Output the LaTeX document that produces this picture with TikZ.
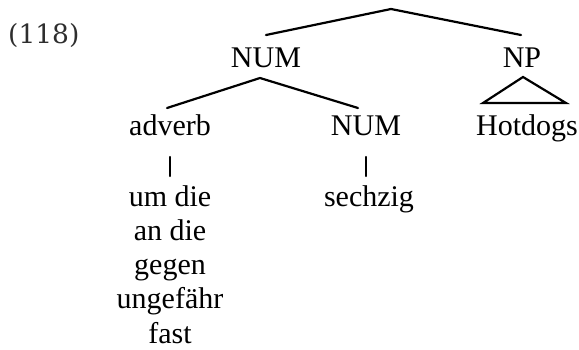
\documentclass[tikz,border=0pt]{standalone}
\usepackage{fontspec}
\setmainfont{Liberation Serif}
\newfontfamily\exfont{DejaVu Serif}
\begin{document}
\begin{tikzpicture}[x=1pt,y=-1pt,
  lab/.style={inner sep=0pt,anchor=base,font=\fontsize{30}{34.3}\selectfont},
  branch/.style={line width=2.2pt,line cap=round},
  exnum/.style={inner sep=0pt,anchor=base west,text=black!82,font=\exfont\fontsize{26.5}{30}\selectfont}]
\useasboundingbox (0,0) rectangle (579,349);
\node[exnum] (ex) at (8,43) {(118)};
% labels
\node[lab] (num1) at (266,67) {NUM};
\node[lab] (np) at (522,67) {NP};
\node[lab] (adv) at (170,135) {adverb};
\node[lab] (num2) at (366,135) {NUM};
\node[lab] (hot) at (527,135) {Hotdogs};
\node[lab] (advw) at (170,206) {\begin{tabular}[t]{@{}c@{}}um die\\an die\\gegen\\ungefähr\\fast\end{tabular}};
\node[lab] (sech) at (369,206) {sechzig};
% branch points
\coordinate (root) at (391,9);
\coordinate (num1t) at (266,35);
\coordinate (npt) at (521,35);
\coordinate (num1b) at (260,78);
\coordinate (advt) at (167,108);
\coordinate (num2t) at (358,108);
\coordinate (advb) at (170,157);
\coordinate (advwt) at (170,176);
\coordinate (num2b) at (366,157);
\coordinate (secht) at (366,176);
\coordinate (npb) at (523,77);
\coordinate (hotl) at (483,103);
\coordinate (hotr) at (566,103);
% connectors
\draw[branch] (num1t) -- (root) -- (npt);
\draw[branch] (advt) -- (num1b) -- (num2t);
\draw[branch] (advb) -- (advwt);
\draw[branch] (num2b) -- (secht);
\draw[branch,line join=miter] (npb) -- (hotl) -- (hotr) -- cycle;
\end{tikzpicture}
\end{document}
